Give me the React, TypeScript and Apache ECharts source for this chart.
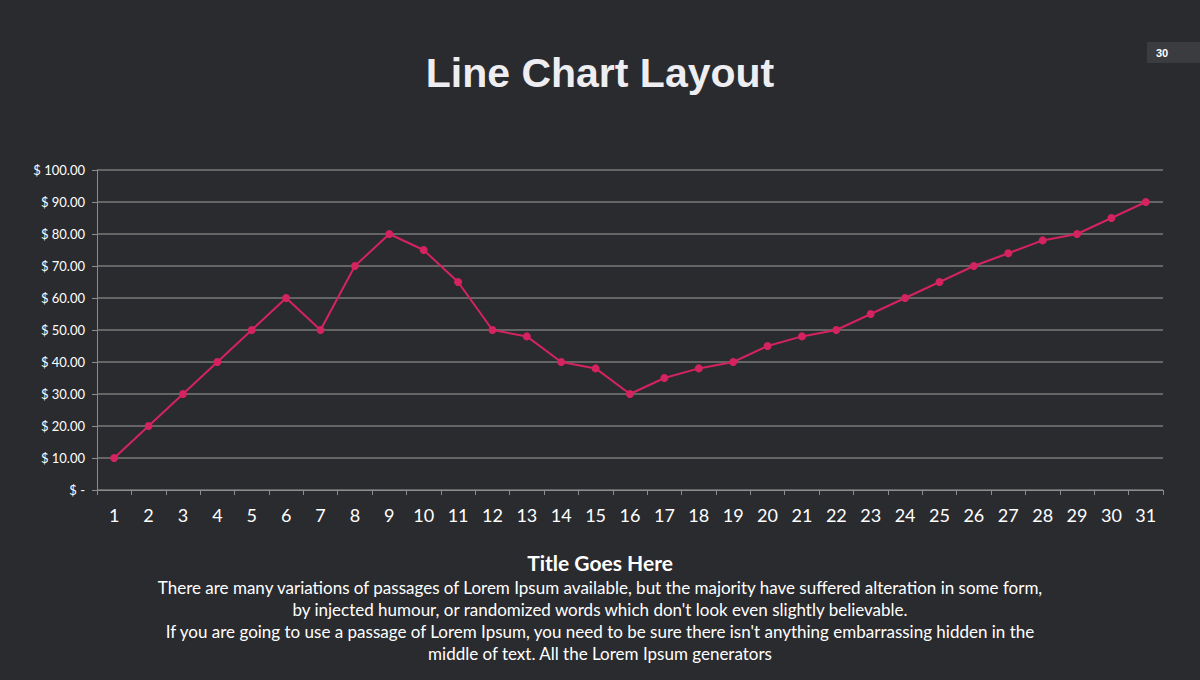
import React, { useEffect, useRef } from "react";
import * as echarts from "echarts";

const categories = ["1","2","3","4","5","6","7","8","9","10","11","12","13","14","15","16","17","18","19","20","21","22","23","24","25","26","27","28","29","30","31"];
const values = [10,20,30,40,50,60,50,70,80,75,65,50,48,40,38,30,35,38,40,45,48,50,55,60,65,70,74,78,80,85,90];
const chartTitle = "Line Chart Layout";
const pageNumber = "30";
const subTitle = "Title Goes Here";
const bodyLines = [
  "There are many variations of passages of Lorem Ipsum available, but the majority have suffered alteration in some form,",
  "by injected humour, or randomized words which don't look even slightly believable.",
  "If you are going to use a passage of Lorem Ipsum, you need to be sure there isn't anything embarrassing hidden in the",
  "middle of text. All the Lorem Ipsum generators",
];

export default function App() {
  const ref = useRef<HTMLDivElement>(null);
  useEffect(() => {
    if (!ref.current) return;
    const chart = echarts.init(ref.current, null, { renderer: "svg" });
    const bodyFont = "Lato, 'Open Sans', sans-serif";
    chart.setOption({
      animation: false,
      backgroundColor: "#2a2b2f",
      grid: { left: 97, right: 37, top: 170, bottom: 190, containLabel: false },
      xAxis: {
        type: "category",
        data: categories,
        boundaryGap: true,
        axisLine: { show: true, lineStyle: { color: "#8c8c8c", width: 1 } },
        axisTick: { show: true, length: 5, alignWithLabel: false, lineStyle: { color: "#8c8c8c" } },
        axisLabel: { color: "#ffffff", fontSize: 18, fontFamily: bodyFont, margin: 16, interval: 0 },
      },
      yAxis: {
        type: "value",
        min: 0,
        max: 100,
        interval: 10,
        axisLine: { show: true, lineStyle: { color: "#8c8c8c", width: 1 } },
        axisTick: { show: true, length: 5, lineStyle: { color: "#8c8c8c" } },
        splitLine: { show: true, lineStyle: { color: "#7a7a7a", width: 1.5 } },
        axisLabel: {
          color: "#ffffff",
          fontSize: 13,
          fontFamily: bodyFont,
          margin: 12,
          formatter: (v: number) => (v === 0 ? "$ -" : "$ " + v.toFixed(2)),
        },
      },
      series: [
        {
          type: "line",
          data: values,
          symbol: "circle",
          symbolSize: 8,
          lineStyle: { color: "#d4235e", width: 2 },
          itemStyle: { color: "#d4235e" },
        },
      ],
      graphic: [
        {
          type: "text",
          x: 600,
          y: 73,
          style: {
            text: chartTitle,
            font: "bold 41px 'Liberation Sans', Arial, sans-serif",
            fill: "#eeeef2",
            align: "center",
            verticalAlign: "middle",
          },
        },
        {
          type: "rect",
          shape: { x: 1147, y: 42, width: 53, height: 21 },
          style: { fill: "#3b3c40" },
        },
        {
          type: "text",
          x: 1162,
          y: 52.5,
          style: {
            text: pageNumber,
            font: "bold 11px 'Liberation Sans', Arial, sans-serif",
            fill: "#ffffff",
            align: "center",
            verticalAlign: "middle",
          },
        },
        {
          type: "text",
          x: 600,
          y: 562,
          style: {
            text: subTitle,
            font: "bold 21px " + bodyFont,
            fill: "#ffffff",
            align: "center",
            verticalAlign: "middle",
          },
        },
        ...bodyLines.map((t, i) => ({
          type: "text",
          x: 600,
          y: 587 + i * 22,
          style: {
            text: t,
            font: "17px " + bodyFont,
            fill: "#ffffff",
            align: "center",
            verticalAlign: "middle",
          },
        })),
      ],
    });
    return () => chart.dispose();
  }, []);
  return (
    <div
      ref={ref}
      style={{ position: "fixed", left: 0, top: 0, width: 1200, height: 680 }}
    />
  );
}
